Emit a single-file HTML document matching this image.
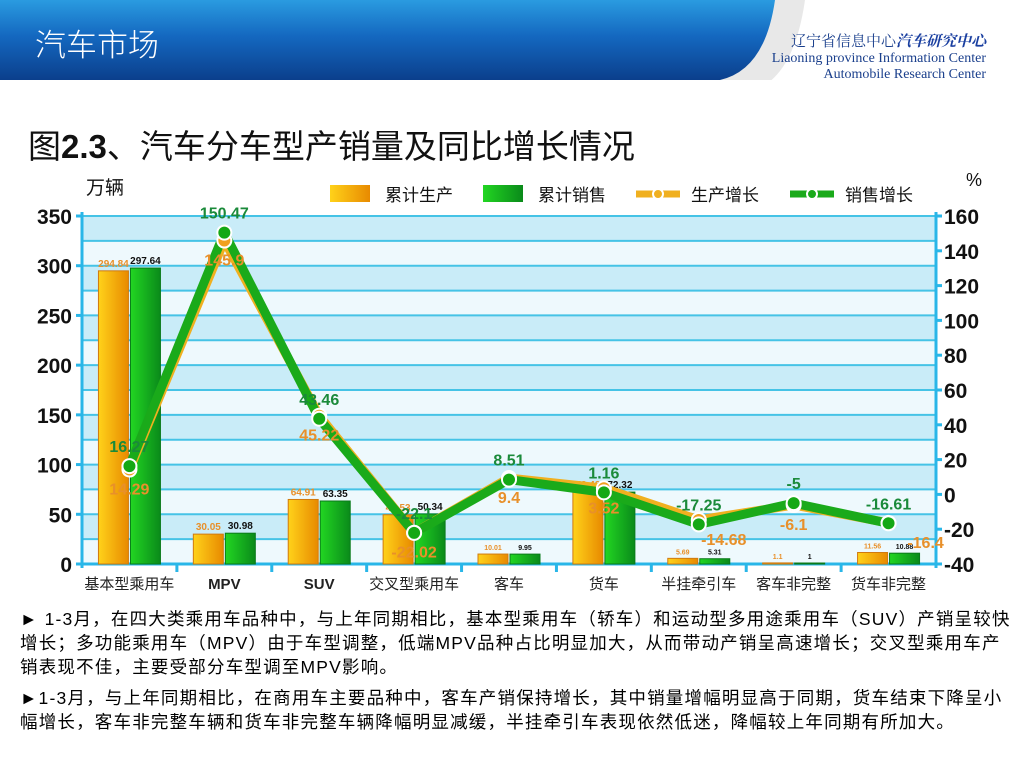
<!DOCTYPE html>
<html><head><meta charset="utf-8"><style>
body{margin:0;width:1024px;height:768px;overflow:hidden;background:#fff;font-family:"Liberation Sans","Noto Sans CJK SC",sans-serif;position:relative}
.abs{position:absolute}
</style></head><body>
<div class="abs" style="left:0;top:0;width:1024px;height:80px;background:linear-gradient(180deg,#2a9be0 0%,#1468c0 45%,#0b3f8c 100%)"></div>
<svg class="abs" style="left:0;top:0" width="1024" height="90"><path d="M775,0 Q765,70 720,80 L1024,80 L1024,0 Z" fill="#e8e8e8"/><path d="M805,0 Q795,70 760,88 L1024,88 L1024,0Z" fill="#fff"/></svg>
<div class="abs" style="left:35px;top:20px;color:#fff;font-size:31px;font-weight:300">汽车市场</div>
<div class="abs" style="right:38px;top:34px;text-align:right;color:#1a3f8c;font-family:'Liberation Serif','Noto Serif CJK SC',serif;font-size:14px;line-height:16px"><span style="font-size:15px">辽宁省信息中心<b style="color:#1a3fa0;font-style:italic">汽车研究中心</b></span><br>Liaoning province Information Center<br>Automobile Research Center</div>
<div class="abs" style="left:28px;top:120px;font-size:33px;color:#111">图<b>2.3</b>、汽车分车型产销量及同比增长情况</div>
<svg id="chart" class="abs" style="left:0;top:0" width="1024" height="600"></svg>
<div class="abs" style="left:20px;top:607px;width:995px;font-size:17.5px;letter-spacing:1.2px;line-height:24px;color:#000">► 1-3月，在四大类乘用车品种中，与上年同期相比，基本型乘用车（轿车）和运动型多用途乘用车（SUV）产销呈较快增长；多功能乘用车（MPV）由于车型调整，低端MPV品种占比明显加大，从而带动产销呈高速增长；交叉型乘用车产销表现不佳，主要受部分车型调至MPV影响。</div>
<div class="abs" style="left:20px;top:686px;width:995px;font-size:17.5px;letter-spacing:1.2px;line-height:24px;color:#000">►1-3月，与上年同期相比，在商用车主要品种中，客车产销保持增长，其中销量增幅明显高于同期，货车结束下降呈小幅增长，客车非完整车辆和货车非完整车辆降幅明显减缓，半挂牵引车表现依然低迷，降幅较上年同期有所加大。</div>
<script>
const categories=["基本型乘用车","MPV","SUV","交叉型乘用车","客车","货车","半挂牵引车","客车非完整","货车非完整"];
const production=[294.84,30.05,64.91,49.53,10.01,72.49,5.69,1.1,11.56];
const sales=[297.64,30.98,63.35,50.34,9.95,72.32,5.31,1.0,10.88];
const prodGrowth=[14.29,145.9,45.22,-22.02,9.4,3.52,-14.68,-6.1,-16.4];
const salesGrowth=[16.27,150.47,43.46,-22.1,8.51,1.16,-17.25,-5,-16.61];
const leftTicks=[0,50,100,150,200,250,300,350];
const rightTicks=[-40,-20,0,20,40,60,80,100,120,140,160];
const svg=document.getElementById('chart');const NS='http://www.w3.org/2000/svg';
const X0=82,X1=936,Y0=564,Y1=216;
const yL=v=>Y0-(v/350)*(Y0-Y1);
const yR=v=>Y0-((v+40)/200)*(Y0-Y1);
const bw=(X1-X0)/categories.length;
const cx=i=>X0+bw*(i+0.5);
function mk(t,a,txt){const e=document.createElementNS(NS,t);for(const k in a)e.setAttribute(k,a[k]);if(txt!=null)e.textContent=txt;svg.appendChild(e);return e;}
const defs=mk('defs',{});
defs.innerHTML='<linearGradient id="go" x1="0" x2="1"><stop offset="0" stop-color="#ffd21a"/><stop offset="1" stop-color="#e88a00"/></linearGradient><linearGradient id="gg" x1="0" x2="1"><stop offset="0" stop-color="#22d622"/><stop offset="1" stop-color="#0a8a1a"/></linearGradient>';
for(let v=0;v<350;v+=25){const b=mk('rect',{x:X0,y:yL(v+25),width:X1-X0,height:yL(v)-yL(v+25),fill:(v/25)%2?'#c9ecf8':'#eef9fd'});}
for(let v=25;v<=350;v+=25){const g=mk('line',{x1:X0,x2:X1,y1:yL(v),y2:yL(v),stroke:'#45c3e6','stroke-width':2});}
const la=mk('line',{x1:X0,x2:X0,y1:Y1-4,y2:Y0+4,stroke:'#29b6e8','stroke-width':3});
const ra=mk('line',{x1:X1,x2:X1,y1:Y1-4,y2:Y0+4,stroke:'#29b6e8','stroke-width':3});
const xa=mk('line',{x1:X0,x2:X1,y1:Y0,y2:Y0,stroke:'#29b6e8','stroke-width':3});
leftTicks.forEach(v=>{mk('line',{x1:X0-6,x2:X0,y1:yL(v),y2:yL(v),stroke:'#29b6e8','stroke-width':3});const t=mk('text',{x:X0-10,y:yL(v)+8,'text-anchor':'end','font-size':21,'font-weight':'bold',fill:'#111'},v);});
rightTicks.forEach(v=>{mk('line',{x1:X1,x2:X1+6,y1:yR(v),y2:yR(v),stroke:'#29b6e8','stroke-width':3});const t=mk('text',{x:X1+8,y:yR(v)+8,'font-size':21,'font-weight':'bold',fill:'#111'},v);});
categories.forEach((c,i)=>{
 if(i>0){mk('line',{x1:X0+bw*i,x2:X0+bw*i,y1:Y0,y2:Y0+8,stroke:'#29b6e8','stroke-width':3});}
 const t=mk('text',{x:cx(i),y:Y0+25,'text-anchor':'middle','font-size':15,'font-weight':/[A-Z]/.test(c)?'bold':'normal',fill:'#222'},c);
 const b1=mk('rect',{x:cx(i)-31,y:yL(production[i]),width:30,height:Y0-yL(production[i]),fill:'url(#go)',stroke:'#d07a10','stroke-width':1});
 const b2=mk('rect',{x:cx(i)+1,y:yL(sales[i]),width:30,height:Y0-yL(sales[i]),fill:'url(#gg)',stroke:'#0a7a1a','stroke-width':1});
 const fs=production[i]>20?10:7;
 const l1=mk('text',{x:cx(i)-16,y:yL(production[i])-4,'text-anchor':'middle','font-size':fs,'font-weight':'bold',fill:'#e8902a'},production[i]);
 const l2=mk('text',{x:cx(i)+16,y:yL(sales[i])-4,'text-anchor':'middle','font-size':fs,'font-weight':'bold',fill:'#111'},sales[i]);
});
const pp=prodGrowth.map((v,i)=>cx(i)+','+yR(v)).join(' ');
const sp=salesGrowth.map((v,i)=>cx(i)+','+yR(v)).join(' ');
const pl=mk('polyline',{points:pp,fill:'none',stroke:'#f0b020','stroke-width':9,'stroke-linejoin':'round'});
const sl=mk('polyline',{points:sp,fill:'none',stroke:'#1aaa1a','stroke-width':9,'stroke-linejoin':'round'});
prodGrowth.forEach((v,i)=>{const m=mk('circle',{cx:cx(i),cy:yR(v),r:7,fill:'#f0a020',stroke:'#fff','stroke-width':2});});
salesGrowth.forEach((v,i)=>{const m=mk('circle',{cx:cx(i),cy:yR(v),r:7,fill:'#14a814',stroke:'#fff','stroke-width':2});});
prodGrowth.forEach((v,i)=>{const dx=i==8?37:(i==6?25:0);const t=mk('text',{x:cx(i)+dx,y:yR(v)+25,'text-anchor':'middle','font-size':16,'font-weight':'bold',fill:'#e8902a'},v);});
salesGrowth.forEach((v,i)=>{const t=mk('text',{x:cx(i),y:yR(v)-14,'text-anchor':'middle','font-size':16,'font-weight':'bold',fill:'#1a8a3a'},v);});
const u1=mk('text',{x:86,y:194,'font-size':19,fill:'#111'},'万辆');
const u2=mk('text',{x:966,y:186,'font-size':18,fill:'#111'},'%');
const lg=[['rect','url(#go)','累计生产',330],['rect','url(#gg)','累计销售',483],['line','#f0b020','生产增长',636],['line','#1aaa1a','销售增长',790]];
lg.forEach(([k,col,txt,x])=>{
 if(k=='rect'){mk('rect',{x:x,y:185,width:40,height:17,fill:col});}
 else{mk('line',{x1:x,x2:x+44,y1:194,y2:194,stroke:col,'stroke-width':7});mk('circle',{cx:x+22,cy:194,r:5,fill:col,stroke:'#fff','stroke-width':2});}
 const t=mk('text',{x:x+55,y:201,'font-size':17,fill:'#111'},txt);
});
</script>
</body></html>
